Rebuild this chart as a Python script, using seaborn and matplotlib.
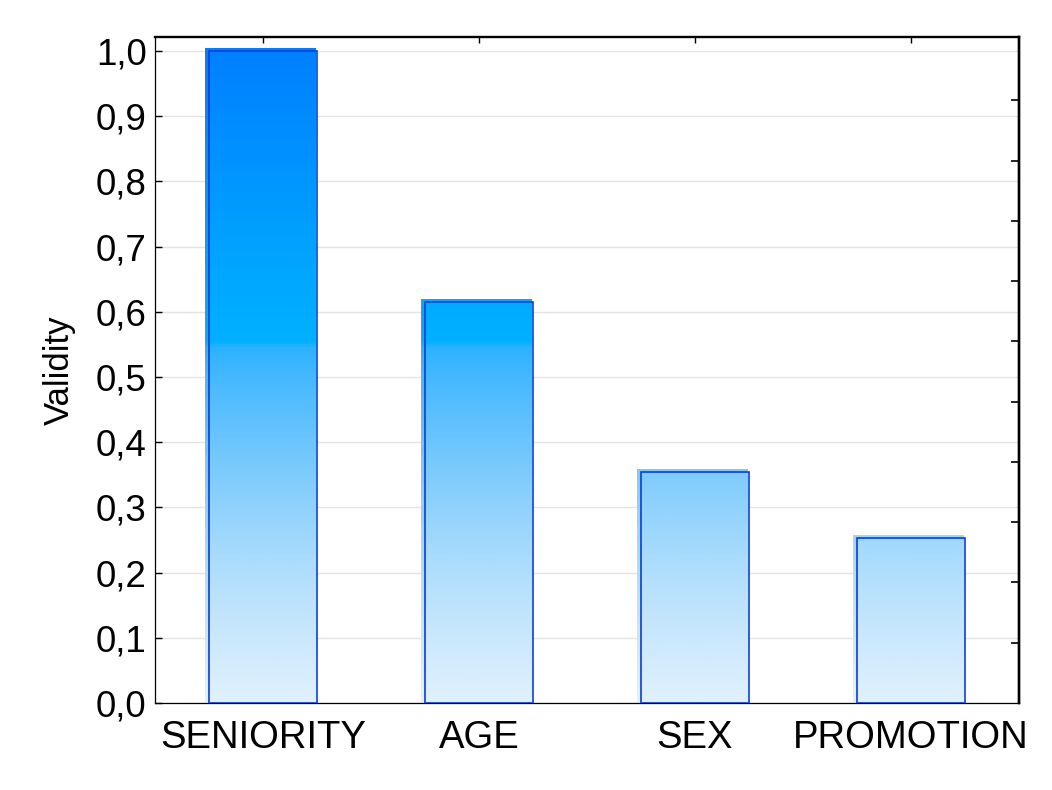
import numpy as np
import seaborn as sns
import matplotlib
import matplotlib.pyplot as plt
from matplotlib.patches import Rectangle
from matplotlib.colors import LinearSegmentedColormap
from matplotlib.ticker import FuncFormatter

categories = ["SENIORITY", "AGE", "SEX", "PROMOTION"]
validity = [1.0, 0.615, 0.355, 0.253]
y_ticks = [0.0, 0.1, 0.2, 0.3, 0.4, 0.5, 0.6, 0.7, 0.8, 0.9, 1.0]

sns.set_style("ticks")
plt.rcParams['font.family'] = ['Liberation Sans', 'DejaVu Sans']
plt.rcParams['text.color'] = 'black'
plt.rcParams['axes.labelcolor'] = 'black'
plt.rcParams['axes.edgecolor'] = 'black'
plt.rcParams['xtick.color'] = 'black'
plt.rcParams['ytick.color'] = 'black'

y_top = 1.0215

# gradient depends on the height, not on the bar
grad_stops = [(0.0, "#E1F1FD"), (0.1, "#CAE8FD"), (0.2, "#B0DEFC"), (0.3, "#90D2FC"),
              (0.4, "#6CC5FD"), (0.5, "#45B8FF"), (0.545, "#2CB2FF"), (0.555, "#00B0FF"),
              (0.65, "#00A8FF"), (1.0, "#0080FF"), (y_top, "#007CFF")]
cmap = LinearSegmentedColormap.from_list(
    "bar_grad", [(v / y_top, c) for v, c in grad_stops])

fig = plt.figure(figsize=(10.52, 7.90), dpi=100)
ax = fig.add_axes([0.1473, 0.1101, 0.8213, 0.8431])

sns.barplot(x=categories, y=validity, ax=ax, width=0.5, color="white", zorder=3)

ax.set_xlim(-0.5, 3.5)
ax.set_ylim(0, y_top)

grad = np.linspace(0, 1, 512).reshape(-1, 1)
for p in ax.patches:
    p.set_facecolor("none")
    p.set_edgecolor("#0A3FD4")
    p.set_linewidth(1.2)
    p.set_zorder(4)
    clip = Rectangle((p.get_x() - 0.02, 0), p.get_width() + 0.012, p.get_height() + 0.004,
                     transform=ax.transData, facecolor="none", edgecolor="none")
    ax.add_patch(clip)
    im = ax.imshow(grad, cmap=cmap, origin="lower", aspect="auto",
                   extent=(-0.5, 3.5, 0, y_top), zorder=2, interpolation="bilinear")
    im.set_clip_path(clip)

ax.set_xlim(-0.5, 3.5)
ax.set_ylim(0, y_top)
ax.set_yticks(y_ticks)
ax.yaxis.set_major_formatter(FuncFormatter(lambda v, pos: f"{v:.1f}".replace(".", ",")))
ax.grid(axis="y", color="#E3E3E3", linewidth=1.0, zorder=0)
ax.set_axisbelow(True)

ax.set_ylabel("Validity", fontsize=25, labelpad=14)
ax.set_xlabel("")
ax.tick_params(axis="y", direction="in", length=5, width=1, labelsize=26.5, pad=6)
ax.tick_params(axis="x", direction="in", length=4, width=1, labelsize=27.5, pad=12,
               top=True)

for side in ["left", "bottom"]:
    ax.spines[side].set_linewidth(0.9)
for side in ["top", "right"]:
    ax.spines[side].set_visible(True)
    ax.spines[side].set_linewidth(1.7)

# right side ticks on their own scale
ax2 = ax.twinx()
ax2.set_ylim(0, 11.05)
ax2.set_yticks(range(1, 11))
ax2.tick_params(axis="y", direction="in", length=6, width=1.2, labelright=False)
for side in ["left", "top", "bottom"]:
    ax2.spines[side].set_visible(False)
ax2.spines["right"].set_linewidth(1.7)

plt.savefig("out.png", dpi=100)
